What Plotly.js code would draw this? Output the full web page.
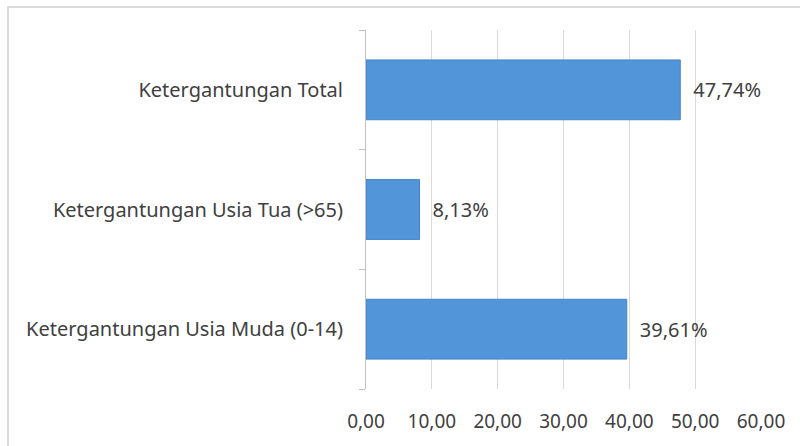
<!DOCTYPE html>
<html>
<head>
<meta charset="utf-8">
<script src="https://cdn.plot.ly/plotly-3.0.1.min.js"></script>
<style>html,body{margin:0;padding:0;background:#fff}#chart{width:800px;height:446px}</style>
</head>
<body>
<div id="chart"></div>
<script>
const categories = ["Ketergantungan Usia Muda (0-14)", "Ketergantungan Usia Tua (>65)", "Ketergantungan Total"];
const values = [39.61, 8.13, 47.74];
const xTicks = [0, 10, 20, 30, 40, 50, 60];

const FONT = '"Noto Sans", "Open Sans", sans-serif';
const TXT = '#404040';

const trace = {
  type: 'bar',
  orientation: 'h',
  x: values,
  y: categories,
  marker: {color: '#5295d8', line: {color: '#4585c6', width: 1}},
  text: values.map(v => '\u2002' + v.toFixed(2).replace('.', ',') + '%'),
  textposition: 'outside',
  textfont: {family: FONT, size: 20, color: TXT},
  cliponaxis: false,
  hoverinfo: 'none'
};

const layout = {
  width: 800, height: 446,
  margin: {l: 366, r: 39, t: 30, b: 57},
  paper_bgcolor: '#fff', plot_bgcolor: '#fff',
  separators: ',.',
  bargap: 0.5,
  showlegend: false,
  font: {family: FONT, size: 20, color: TXT},
  xaxis: {
    range: [0, 60], tickvals: xTicks, tickformat: '.2f',
    showgrid: true, gridcolor: '#d9d9d9', gridwidth: 1,
    zeroline: false, showline: false, ticks: '',
    tickfont: {family: FONT, size: 19, color: TXT},
    ticklabelstandoff: 19, fixedrange: true
  },
  yaxis: {
    type: 'category', tickson: 'boundaries',
    ticks: 'outside', ticklen: 6, tickcolor: '#bfbfbf',
    showline: true, linecolor: '#bfbfbf', linewidth: 1,
    showgrid: false, zeroline: false,
    tickfont: {family: FONT, size: 20, color: TXT},
    ticklabelstandoff: 18, fixedrange: true
  },
  shapes: [{
    type: 'rect', xref: 'paper', yref: 'paper',
    x0: -358/395, x1: 1.2, y0: -0.2, y1: 1 + 23/359,
    line: {color: '#d9d9d9', width: 2}, fillcolor: 'rgba(0,0,0,0)', layer: 'below'
  }]
};

Plotly.newPlot('chart', [trace], layout, {displayModeBar: false, staticPlot: true});
</script>
</body>
</html>
